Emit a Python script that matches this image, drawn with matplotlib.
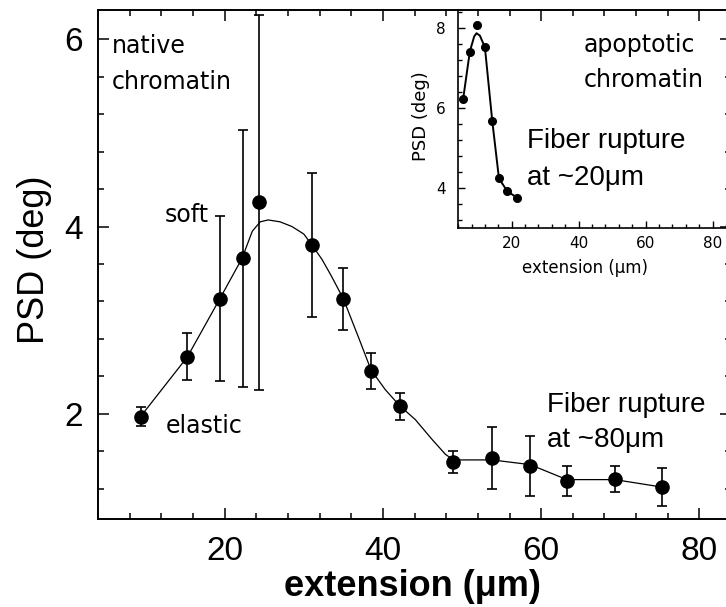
import numpy as np
import matplotlib

matplotlib.use('Agg')
import matplotlib.pyplot as plt
from matplotlib.ticker import MultipleLocator

# main panel: native chromatin
ext = [9.45, 15.3, 19.4, 22.3, 24.3, 31.05, 35.0, 38.5, 42.1, 48.9, 53.8, 58.6, 63.25, 69.3, 75.3]
psd = [1.97, 2.61, 3.23, 3.66, 4.26, 3.80, 3.23, 2.46, 2.08, 1.49, 1.53, 1.45, 1.285, 1.31, 1.22]
psd_err = [0.10, 0.25, 0.88, 1.37, 2.00, 0.77, 0.33, 0.19, 0.14, 0.12, 0.33, 0.32, 0.16, 0.14, 0.20]

# guide line drawn through the main data
curve_x = [9.45, 15.3, 19.4, 22.2, 23.5, 24.5, 25.5, 27.0, 28.5, 30.0, 31.05, 32.3, 33.5, 35.0,
           37.0, 38.5, 40.3, 42.1, 44.1, 46.2, 47.9, 48.9, 53.8, 58.6, 63.25, 69.3, 75.3]
curve_y = [1.98, 2.61, 3.23, 3.66, 3.95, 4.05, 4.07, 4.05, 4.00, 3.92, 3.80, 3.65, 3.47, 3.23,
           2.80, 2.47, 2.26, 2.09, 1.94, 1.73, 1.57, 1.51, 1.51, 1.46, 1.30, 1.30, 1.22]

# inset: apoptotic chromatin
ins_ext = [5.5, 7.5, 9.5, 12.0, 14.2, 16.2, 18.7, 21.6]
ins_psd = [6.23, 7.42, 8.09, 7.53, 5.68, 4.24, 3.92, 3.76]
ins_curve_x = [5.5, 7.5, 8.8, 9.5, 10.5, 12.0, 14.2, 16.2, 18.7, 21.6]
ins_curve_y = [6.23, 7.42, 7.80, 7.88, 7.82, 7.53, 5.68, 4.24, 3.92, 3.76]

big = 'Liberation Sans'
small = 'DejaVu Sans'
note = dict(fontsize=17, family=small, va='baseline')
rupture = dict(fontsize=20, family=big, va='baseline')

fig = plt.figure(figsize=(7.26, 6.07), dpi=100)
ax = fig.add_axes([0.135, 0.145, 0.872, 0.8386])

ax.plot(curve_x, curve_y, color='black', lw=0.9, zorder=2)
ax.errorbar(ext, psd, yerr=psd_err, fmt='o', color='black', ms=9.5, elinewidth=1.2,
            capsize=3.6, capthick=1.2, zorder=3)

ax.set_xlim(4, 84)
ax.set_ylim(0.88, 6.31)
ax.xaxis.set_major_locator(MultipleLocator(20))
ax.xaxis.set_minor_locator(MultipleLocator(4))
ax.yaxis.set_major_locator(MultipleLocator(2))
ax.yaxis.set_minor_locator(MultipleLocator(0.4))
ax.tick_params(which='both', direction='in', top=True, right=True, width=1.1)
ax.tick_params(which='major', length=8)
ax.tick_params(which='minor', length=4.5)
ax.tick_params(axis='y', which='major', pad=11, labelsize=24)
ax.tick_params(axis='x', which='major', pad=12, labelsize=24)
for lab in ax.get_xticklabels() + ax.get_yticklabels():
    lab.set_family(big)
for s in ax.spines.values():
    s.set_linewidth(1.4)

ax.set_xlabel('extension (μm)', fontsize=26, fontweight='bold', family=big)
ax.set_ylabel('PSD (deg)', fontsize=26, family=big)
ax.xaxis.set_label_coords(0.496, -0.098)
ax.yaxis.set_label_coords(-0.073, 0.509)

ax.text(5.7, 5.85, 'native', **note)
ax.text(5.7, 5.47, 'chromatin', **note)
ax.text(18.0, 4.05, 'soft', ha='right', **note)
ax.text(12.5, 1.80, 'elastic', **note)
ax.text(60.8, 2.02, 'Fiber rupture', **rupture)
ax.text(60.8, 1.65, 'at ~80μm', **rupture)

# inset
ins = fig.add_axes([0.631, 0.6244, 0.369, 0.359])
ins.patch.set_alpha(0)
ins.plot(ins_curve_x, ins_curve_y, color='black', lw=1.4, zorder=2)
ins.plot(ins_ext, ins_psd, 'o', color='black', ms=5.5, zorder=3)
ins.set_xlim(4, 84)
ins.set_ylim(3.0, 8.46)
ins.xaxis.set_major_locator(MultipleLocator(20))
ins.xaxis.set_minor_locator(MultipleLocator(4))
ins.yaxis.set_major_locator(MultipleLocator(2))
ins.yaxis.set_minor_locator(MultipleLocator(0.4))
ins.spines['top'].set_visible(False)
ins.spines['right'].set_visible(False)
for s in ['left', 'bottom']:
    ins.spines[s].set_linewidth(1.2)
ins.tick_params(which='both', direction='in', width=1.0, labelsize=11)
ins.tick_params(which='major', length=5)
ins.tick_params(which='minor', length=3)
ins.tick_params(axis='y', which='major', pad=9)
ins.tick_params(axis='x', which='major', pad=6)
ins.set_xlabel('extension (μm)', fontsize=12, family=small)
ins.set_ylabel('PSD (deg)', fontsize=13, family=small)
ins.xaxis.set_label_coords(0.474, -0.142)
ins.yaxis.set_label_coords(-0.104, 0.514)

ins.text(41.5, 7.41, 'apoptotic', **note)
ins.text(41.5, 6.53, 'chromatin', **note)
ins.text(24.5, 5.0, 'Fiber rupture', **rupture)
ins.text(24.5, 4.07, 'at ~20μm', **rupture)

fig.savefig('out.png', dpi=100)
plt.close(fig)
